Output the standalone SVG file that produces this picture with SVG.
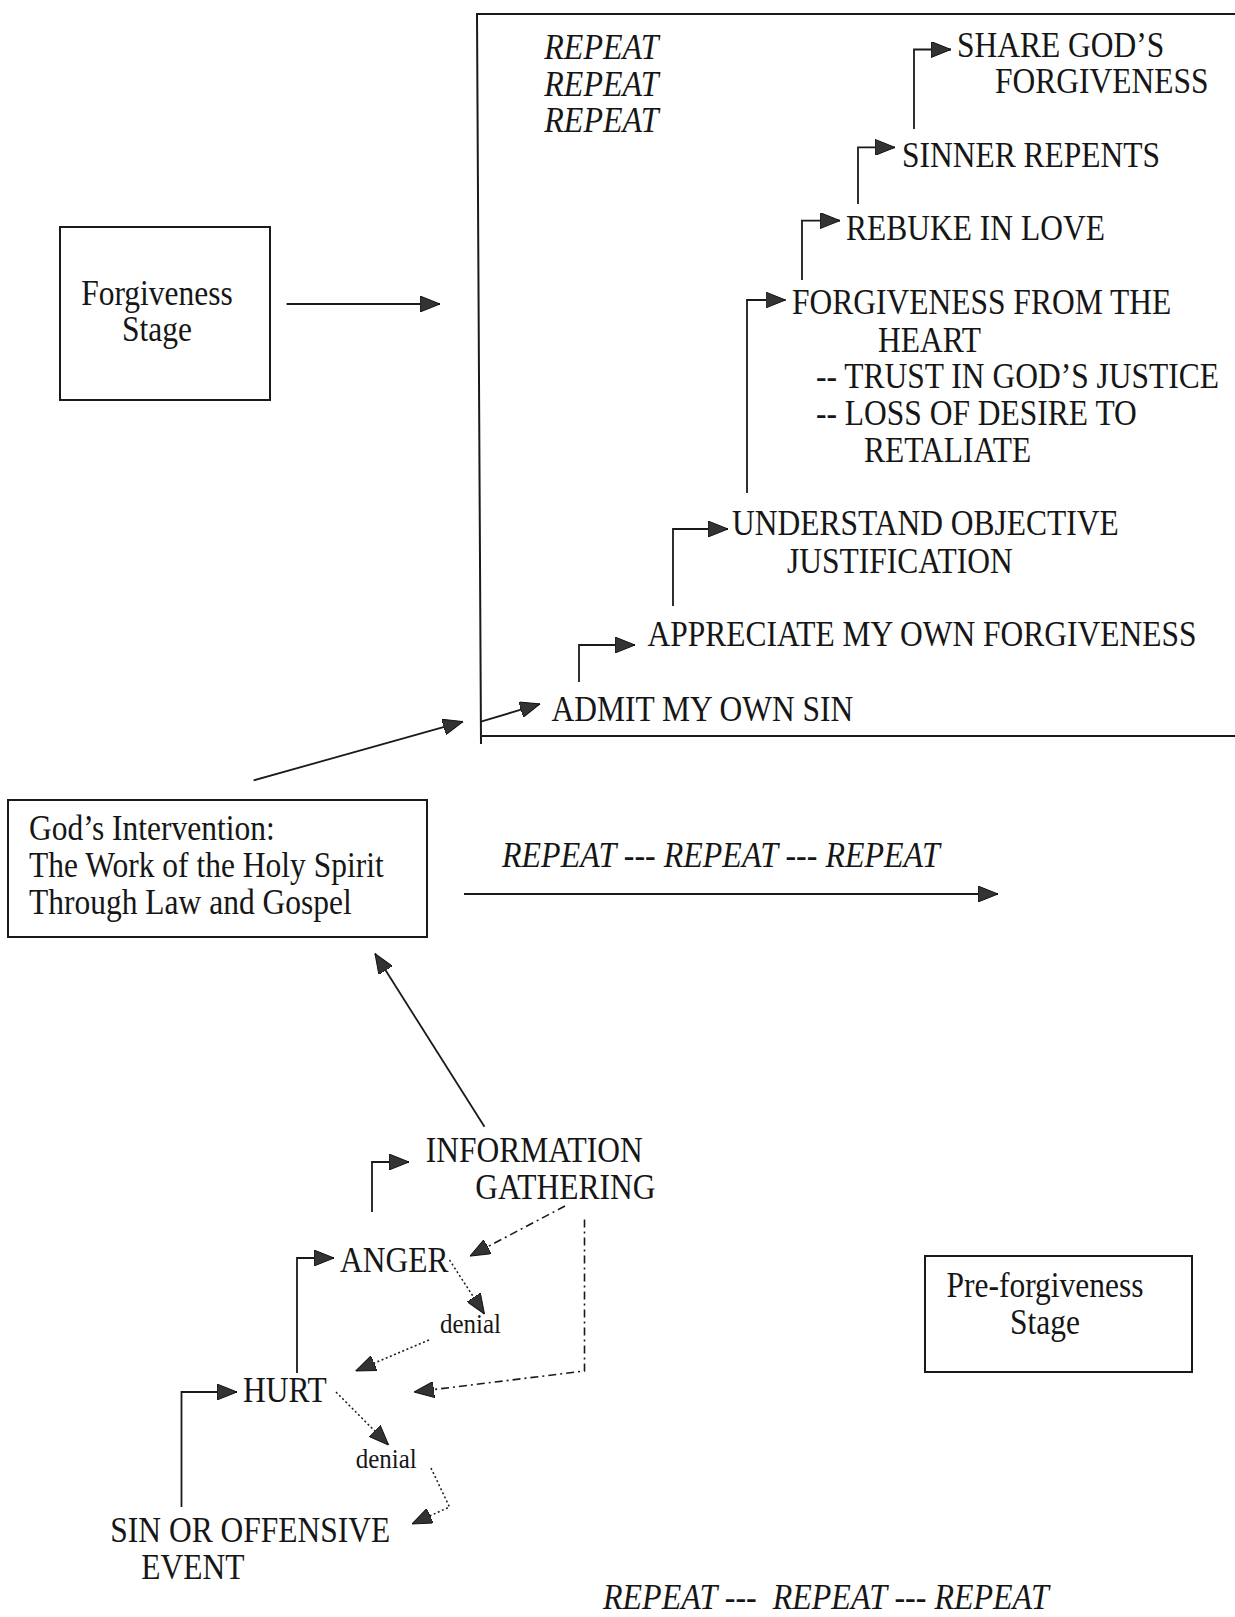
<svg xmlns="http://www.w3.org/2000/svg" width="1235" height="1617" viewBox="0 0 1235 1617">
<style>
.t{font-family:"Liberation Serif","Times New Roman",serif;font-size:31.5px;fill:#161616}
.i{font-style:italic;font-size:32px}
.s{font-size:25px}
.m{text-anchor:middle}
.box{fill:none;stroke:#1a1a1a;stroke-width:2}
.ln{fill:none;stroke:#1a1a1a;stroke-width:1.8}
.dd{fill:none;stroke:#1a1a1a;stroke-width:1.6;stroke-dasharray:8 4 2 4}
.dt{fill:none;stroke:#1a1a1a;stroke-width:1.5;stroke-dasharray:2 2.5}
</style>
<defs>
<marker id="ah" markerUnits="userSpaceOnUse" markerWidth="20" markerHeight="16" refX="20" refY="8" orient="auto">
<path d="M0,0 L20,8 L0,16 z" fill="#333" stroke="#111" stroke-width="1"/>
</marker>
</defs>
<rect width="1235" height="1617" fill="#fff"/>

<g id="forgiveness-frame">
<path class="box" d="M1235,14 H477 L481,744 M482,736 H1235"/>
</g>

<g id="repeat-stack" transform="translate(544.3,58.8) scale(1,1.12)">
<text class="t i"><tspan x="0" y="0">REPEAT</tspan><tspan x="0" y="33.1">REPEAT</tspan><tspan x="0" y="65.4">REPEAT</tspan></text>
</g>

<g id="share" transform="translate(957,56.7) scale(1,1.12)">
<text class="t"><tspan x="0" y="0">SHARE GOD’S</tspan><tspan x="38" y="32.2">FORGIVENESS</tspan></text>
</g>
<g id="sinner" transform="translate(902,167) scale(1,1.12)">
<text class="t">SINNER REPENTS</text>
</g>
<g id="rebuke" transform="translate(846,240) scale(1,1.12)">
<text class="t">REBUKE IN LOVE</text>
</g>
<g id="heart" transform="translate(792,314) scale(1,1.12)">
<text class="t"><tspan x="0" y="0">FORGIVENESS FROM THE</tspan><tspan x="86" y="33.5">HEART</tspan><tspan x="24" y="65.7">-- TRUST IN GOD’S JUSTICE</tspan><tspan x="24" y="98.8">-- LOSS OF DESIRE TO</tspan><tspan x="72" y="132.1">RETALIATE</tspan></text>
</g>
<g id="understand" transform="translate(732,535) scale(1,1.12)">
<text class="t"><tspan x="0" y="0">UNDERSTAND OBJECTIVE</tspan><tspan x="55" y="33.9">JUSTIFICATION</tspan></text>
</g>
<g id="appreciate" transform="translate(647.4,646) scale(1,1.12)">
<text class="t">APPRECIATE MY OWN FORGIVENESS</text>
</g>
<g id="admit" transform="translate(551.5,720.6) scale(1,1.12)">
<text class="t">ADMIT MY OWN SIN</text>
</g>

<g id="forgiveness-stage">
<rect class="box" x="60" y="227" width="210" height="173"/>
<g transform="translate(157,305) scale(1,1.12)">
<text class="t m"><tspan x="0" y="0">Forgiveness</tspan><tspan x="0" y="32.1">Stage</tspan></text>
</g>
</g>

<g id="gods-intervention">
<rect class="box" x="8" y="800" width="419" height="137"/>
<g transform="translate(29,840) scale(1,1.12)">
<text class="t"><tspan x="0" y="0">God’s Intervention:</tspan><tspan x="0" y="33">The Work of the Holy Spirit</tspan><tspan x="0" y="66.1">Through Law and Gospel</tspan></text>
</g>
</g>

<g id="repeat-middle" transform="translate(502,867) scale(1,1.12)">
<text class="t i">REPEAT --- REPEAT --- REPEAT</text>
</g>

<g id="information" transform="translate(425.8,1162) scale(1,1.12)">
<text class="t"><tspan x="0" y="0">INFORMATION</tspan><tspan x="49.5" y="33">GATHERING</tspan></text>
</g>
<g id="anger" transform="translate(340,1272) scale(1,1.12)">
<text class="t">ANGER</text>
</g>
<g id="denial-1" transform="translate(440,1333) scale(1,1.12)">
<text class="t s">denial</text>
</g>
<g id="hurt" transform="translate(243,1402) scale(1,1.12)">
<text class="t">HURT</text>
</g>
<g id="denial-2" transform="translate(355.7,1468) scale(1,1.12)">
<text class="t s">denial</text>
</g>
<g id="sin" transform="translate(110.3,1542) scale(1,1.12)">
<text class="t"><tspan x="0" y="0">SIN OR OFFENSIVE</tspan><tspan x="31" y="33">EVENT</tspan></text>
</g>

<g id="pre-forgiveness">
<rect class="box" x="925" y="1256" width="267" height="116"/>
<g transform="translate(1045,1297) scale(1,1.12)">
<text class="t m"><tspan x="0" y="0">Pre-forgiveness</tspan><tspan x="0" y="33">Stage</tspan></text>
</g>
</g>

<g id="repeat-bottom" transform="translate(603,1609) scale(1,1.12)">
<text class="t i" style="white-space:pre">REPEAT ---  REPEAT --- REPEAT</text>
</g>

<g id="connectors">
<path class="ln" marker-end="url(#ah)" d="M914,129 V49.5 H951"/>
<path class="ln" marker-end="url(#ah)" d="M858,204 V147.4 H895"/>
<path class="ln" marker-end="url(#ah)" d="M802,280 V220.6 H840"/>
<path class="ln" marker-end="url(#ah)" d="M747,493 V300 H785.5"/>
<path class="ln" marker-end="url(#ah)" d="M673,606 V529 H728"/>
<path class="ln" marker-end="url(#ah)" d="M579,682 V645 H635"/>
<path class="ln" marker-end="url(#ah)" d="M481,721.6 L540,704"/>
<path class="ln" marker-end="url(#ah)" d="M286.6,304 H440"/>
<path class="ln" marker-end="url(#ah)" d="M253.6,780.4 L463,721.6"/>
<path class="ln" marker-end="url(#ah)" d="M464,894 H998"/>
<path class="ln" marker-end="url(#ah)" d="M484.5,1126.8 L375,953.6"/>
<path class="ln" marker-end="url(#ah)" d="M372,1212 V1162 H409"/>
<path class="ln" marker-end="url(#ah)" d="M297,1373 V1258 H334"/>
<path class="ln" marker-end="url(#ah)" d="M181.5,1507 V1392 H237"/>
<path class="dd" marker-end="url(#ah)" d="M565,1206 L470,1256"/>
<path class="dd" marker-end="url(#ah)" d="M584.5,1219.5 V1371 L414,1392"/>
<path class="dt" marker-end="url(#ah)" d="M449.5,1260 L484.5,1314"/>
<path class="dt" marker-end="url(#ah)" d="M429,1340 L355.7,1371"/>
<path class="dt" marker-end="url(#ah)" d="M336,1392 L388.6,1445"/>
<path class="dt" marker-end="url(#ah)" d="M431,1468 L449.5,1507 L412,1524"/>
</g>
</svg>
